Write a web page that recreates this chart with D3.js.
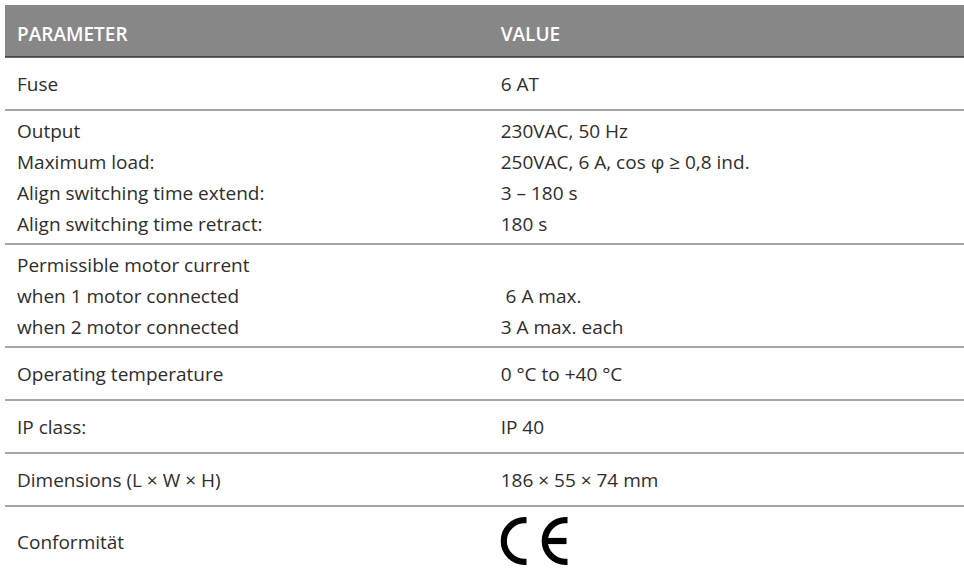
<!DOCTYPE html>
<html>
<head>
<meta charset="utf-8">
<script src="https://cdn.jsdelivr.net/npm/d3@7/dist/d3.min.js"></script>
<style>
  html, body { margin: 0; padding: 0; background: #fff; }
  svg { display: block; }
  text { font-family: "Open Sans", "Noto Sans", sans-serif; white-space: pre; }
</style>
</head>
<body>
<svg id="chart" width="964" height="571"></svg>
<script>
// ---- data ----
const headers = ["PARAMETER", "VALUE"];
const parameterGroups = [
  ["Fuse"],
  ["Output", "Maximum load:", "Align switching time extend:", "Align switching time retract:"],
  ["Permissible motor current", "when 1 motor connected", "when 2 motor connected"],
  ["Operating temperature"],
  ["IP class:"],
  ["Dimensions (L \u00d7 W \u00d7 H)"],
  ["Conformit\u00e4t"]
];
const valueGroups = [
  ["6 AT"],
  ["230VAC, 50 Hz", "250VAC, 6 A, cos \u03c6 \u2265 0,8 ind.", "3 \u2013 180 s", "180 s"],
  ["", " 6 A max.", "3 A max. each"],
  ["0 \u00b0C to +40 \u00b0C"],
  ["IP 40"],
  ["186 \u00d7 55 \u00d7 74 mm"],
  ["CE"]
];

// ---- layout ----
const W = 964, H = 571;
const tableLeft = 5, tableRight = 964;
const headerTop = 5, headerH = 52;
const lineH = 31, fontSize = 19;
const ceH = 48;
const colX = d3.scaleOrdinal().domain(headers).range([17, 500.7]);

const rows = parameterGroups.map((p, i) => {
  const n = Math.max(p.length, valueGroups[i].length);
  const isCE = valueGroups[i][0] === "CE";
  let h = Math.max(53, 10 + lineH * n);
  if (isCE) h = ceH + 22;
  return { params: p, values: valueGroups[i], n, h, isCE };
});
let acc = 0;
rows.forEach(r => { r.start = acc; acc += r.h; });
const bodyTop = headerTop + headerH;
const y = d3.scaleLinear().domain([0, acc]).range([bodyTop, bodyTop + acc]);

const svg = d3.select("#chart");

// header
svg.append("rect")
  .attr("x", tableLeft).attr("y", headerTop)
  .attr("width", tableRight - tableLeft).attr("height", headerH)
  .attr("fill", "#878787");
svg.selectAll("text.hdr").data(headers).join("text")
  .attr("class", "hdr")
  .attr("x", d => colX(d))
  .attr("y", headerTop + 35.7)
  .attr("fill", "#fff")
  .attr("font-size", fontSize)
  .attr("font-weight", 600)
  .text(d => d);
svg.append("line")
  .attr("x1", tableLeft).attr("x2", tableRight)
  .attr("y1", bodyTop).attr("y2", bodyTop)
  .attr("stroke", "#333").attr("stroke-width", 1.6);

// rows
const g = svg.selectAll("g.row").data(rows).join("g").attr("class", "row");

// separators (below each row except last)
g.filter((d, i) => i < rows.length - 1).append("line")
  .attr("x1", tableLeft).attr("x2", tableRight)
  .attr("y1", d => y(d.start + d.h)).attr("y2", d => y(d.start + d.h))
  .attr("stroke", "#8a8a8a").attr("stroke-width", 1.4);

function baseline(d, i) {
  return y(d.start + (d.h - lineH * d.n) / 2 + lineH * i + 23);
}

g.each(function (d) {
  const sel = d3.select(this);
  sel.selectAll("text.param").data(d.params).join("text")
    .attr("class", "param")
    .attr("x", colX(headers[0]))
    .attr("y", (t, i) => d.isCE ? y(d.start + d.h / 2 + 8) : baseline(d, i))
    .attr("fill", "#2e2e2e")
    .attr("font-size", fontSize)
    .text(t => t);
  if (!d.isCE) {
    sel.selectAll("text.val").data(d.values).join("text")
      .attr("class", "val")
      .attr("x", colX(headers[1]))
      .attr("y", (t, i) => baseline(d, i))
      .attr("fill", "#2e2e2e")
      .attr("font-size", fontSize)
      .text(t => t);
  } else {
    // CE mark
    const cy = y(d.start + d.h / 2);
    const sw = 6.2, R = ceH / 2 - sw / 2;
    const x0 = colX(headers[1]);
    const ce = sel.append("g").attr("fill", "none").attr("stroke", "#000").attr("stroke-width", sw);
    ce.append("title").text("CE");
    const cx1 = x0 + ceH / 2, cx2 = x0 + 41 + ceH / 2, ext = 1.8;
    const arc = cx => `M${cx + ext},${cy - R} L${cx},${cy - R} A${R},${R} 0 0 0 ${cx},${cy + R} L${cx + ext},${cy + R}`;
    ce.append("path").attr("d", arc(cx1));
    ce.append("path").attr("d", arc(cx2));
    ce.append("path").attr("d", `M${cx2 - R},${cy} L${cx2 + ext - 1},${cy}`);
  }
});
</script>
</body>
</html>
